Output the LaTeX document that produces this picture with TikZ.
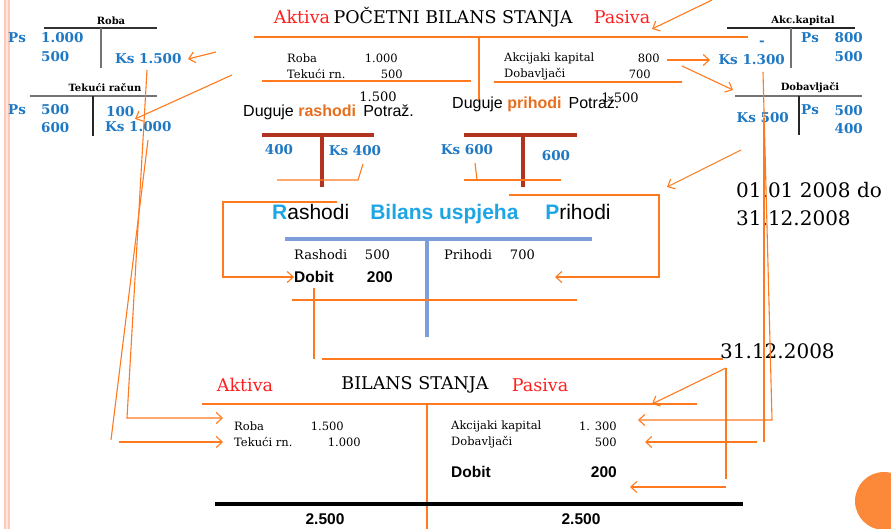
\documentclass[tikz,border=0pt]{standalone}
\usepackage{fontspec}
\setmainfont{DejaVu Serif}
\setsansfont{Liberation Sans}
\usetikzlibrary{arrows.meta,positioning,calc}

\definecolor{accblue}{RGB}{31,120,195}
\definecolor{lightblue}{RGB}{30,165,228}
\definecolor{lineor}{RGB}{255,122,30}
\definecolor{wordor}{RGB}{230,110,30}
\definecolor{titlered}{RGB}{255,30,30}
\definecolor{tred}{RGB}{178,52,32}
\definecolor{tblue}{RGB}{125,158,216}
\definecolor{dotor}{RGB}{252,137,57}
\definecolor{stripe}{RGB}{255,200,185}

\tikzset{
  acc/.style={text=accblue,font=\fontsize{13.5}{13.5}\selectfont\bfseries,inner sep=0pt},
  acctitle/.style={font=\fontsize{10}{10}\selectfont\bfseries,inner sep=0pt},
  entry/.style={font=\fontsize{11.5}{11.5}\selectfont,inner sep=0pt},
  sum/.style={font=\fontsize{13}{13}\selectfont,inner sep=0pt},
  head/.style={font=\fontsize{17.5}{17.5}\selectfont,inner sep=0pt},
  side/.style={head,text=titlered},
  date/.style={font=\fontsize{20}{20}\selectfont,inner sep=0pt},
  side sans/.style={font=\sffamily\fontsize{16}{16}\selectfont,inner sep=0pt},
  bold sans/.style={font=\sffamily\bfseries\fontsize{15.5}{15.5}\selectfont,inner sep=0pt},
  tline/.style={line width=1.2pt},
  oline/.style={draw=lineor,line width=1.1pt},
  oarrow/.style={oline,-{Straight Barb[length=6pt,width=11pt]}}
}

\begin{document}
\begin{tikzpicture}[x=1pt,y=-1pt]
  \path[use as bounding box,clip] (0,0) rectangle (891,529);

  % page stripe and corner dot
  \fill[stripe] (4,0) rectangle (10,529);
  \draw[white!55!stripe,line width=1.5pt] (7,0) -- (7,529);
  \fill[dotor] (884,501) circle (29pt);

  % T-account Roba
  \node[acctitle] (roba) at (111,21) {Roba};
  \draw[tline,black!80] (44,28) -- (157,28);
  \draw[tline,black!55] (101,28) -- (101,68);
  \node[acc,anchor=west] (psRoba) at (8,38) {Ps};
  \node[acc,anchor=west] (roba1000) at (41,38) {1.000};
  \node[acc,anchor=west] (roba500) at (41,57) {500};
  \node[acc,anchor=west] (ksRoba) at (115,59) {Ks 1.500};

  % T-account Tekuci racun
  \node[acctitle] (tekuci) at (105,88) {Tekući račun};
  \draw[tline,black!55] (30,96) -- (157,96);
  \draw[tline,black!85] (93,96) -- (93,136);
  \node[acc,anchor=west] (psTek) at (8,110) {Ps};
  \node[acc,anchor=west] (tek500) at (41,110) {500};
  \node[acc,anchor=west] (tek600) at (41,128) {600};
  \node[acc,anchor=west] (tek100) at (106,112) {100};
  \node[acc,anchor=west] (ksTek) at (105,127) {Ks 1.000};

  % T-account Akc.kapital
  \node[acctitle] (akc) at (803,21) {Akc.kapital};
  \draw[tline,black!85] (727,28) -- (855,28);
  \draw[tline,black!55] (791,28) -- (791,68);
  \node[acc] (akcMinus) at (762,43) {-};
  \node[acc,anchor=east] (ksAkc) at (785,60) {Ks 1.300};
  \node[acc,anchor=west] (psAkc) at (801,38) {Ps};
  \node[acc,anchor=east] (akc800) at (863,38) {800};
  \node[acc,anchor=east] (akc500) at (863,57) {500};

  % T-account Dobavljaci
  \node[acctitle] (dob) at (810,88) {Dobavljači};
  \draw[tline,black!55] (735,96) -- (862,96);
  \draw[tline,black!85] (799,96) -- (799,135);
  \node[acc,anchor=east] (ksDob) at (789,118) {Ks 500};
  \node[acc,anchor=west] (psDob) at (801,110) {Ps};
  \node[acc,anchor=east] (dob500) at (863,111) {500};
  \node[acc,anchor=east] (dob400) at (863,129) {400};

  % opening balance
  \node[side] (aktiva1) at (302,17) {Aktiva};
  \node[head] (pbs) at (453,17) {POČETNI BILANS STANJA};
  \node[side] (pasiva1) at (622,17) {Pasiva};
  \draw[oline] (254,37) -- (748,37);
  \draw[oline] (479,37) -- (479,100);
  \draw[oline] (262,81) -- (471,81);
  \draw[oline] (494,82) -- (682,82);
  \node[entry,anchor=west] (pRoba) at (287,58) {Roba};
  \node[entry,anchor=east] (pRobaV) at (398,58) {1.000};
  \node[entry,anchor=west] (pTek) at (287,74) {Tekući rn.};
  \node[entry,anchor=east] (pTekV) at (403,74) {500};
  \node[entry,anchor=west] (pAkc) at (504,58) {Akcijaki kapital};
  \node[entry,anchor=east] (pAkcV) at (660,58) {800};
  \node[entry,anchor=west] (pDob) at (504,74) {Dobavljači};
  \node[entry,anchor=east] (pDobV) at (651,74) {700};
  \node[sum] (pSumL) at (378,97) {1.500};
  \node[sum] (pSumR) at (620,98) {1.500};

  % arrows around the opening balance
  \draw[oarrow] (216,52) -- (ksRoba.east -| 188,0);
  \draw[oarrow] (232,75) -- (135,119);
  \draw[oarrow] (712,0) -- (652,29);
  \draw[oarrow] (pAkcV.east) ++(7,2) -- (710,60);
  \draw[oarrow] (682,66) -- (733,90);
  \draw[oarrow] (741,150) -- (667,187);

  % expense and revenue accounts
  \node[side sans,anchor=west] (dugR) at (243,112)
    {Duguje \textcolor{wordor}{\bfseries rashodi}\, Potraž.};
  \node[side sans,anchor=west] (dugP) at (452,104)
    {Duguje \textcolor{wordor}{\bfseries prihodi}\, Potraž.};
  \draw[tred,line width=3.5pt] (262,135) -- (374,135);
  \draw[tred,line width=3.5pt] (322,135) -- (322,187);
  \draw[tred,line width=3.5pt] (464,135) -- (577,135);
  \draw[tred,line width=3.5pt] (523,135) -- (523,187);
  \node[acc] (r400) at (279,150) {400};
  \node[acc] (ksR) at (355,151) {Ks 400};
  \node[acc] (ksP) at (467,150) {Ks 600};
  \node[acc] (p600) at (556,156) {600};
  \draw[oline] (277,180) -- (358,180) -- (363,164);
  \draw[oline] (464,180) -- (561,180);
  \draw[oline] (475,163) -- (477,180);

  % income statement
  \node[font=\sffamily\fontsize{21}{21}\selectfont,inner sep=0pt,anchor=west] (bu) at (272,214)
    {\textcolor{lightblue}{\bfseries R}ashodi\quad\textcolor{lightblue}{\bfseries Bilans uspjeha}\quad\ \textcolor{lightblue}{\bfseries P}rihodi};
  \draw[tblue,line width=3.5pt] (285,239) -- (592,239);
  \draw[tblue,line width=3.5pt] (427,239) -- (427,337);
  \node[sum,anchor=west] (buR) at (294,255) {Rashodi};
  \node[sum,anchor=east] (buRV) at (390,255) {500};
  \node[sum,anchor=west] (buP) at (444,255) {Prihodi};
  \node[sum,anchor=east] (buPV) at (535,255) {700};
  \node[bold sans,anchor=west] (buD) at (294,277) {Dobit};
  \node[bold sans,anchor=east] (buDV) at (393,277) {200};
  \draw[oline] (292,300) -- (577,300);
  \draw[oarrow] (337,202) -- (223,202) -- (223,277) -- (buD.west);
  \draw[oarrow] (509,195) -- (659,195) -- (659,277) -- (555,277);
  \draw[oline] (314,288) -- (314,359);
  \draw[oline] (322,359) -- (723,359);

  % dates
  \node[date,anchor=west] (d1) at (736,190) {01.01 2008 do};
  \node[date,anchor=west] (d2) at (736,218) {31.12.2008};
  \node[date,anchor=west] (d3) at (720,351) {31.12.2008};

  % closing balance
  \node[side] (aktiva2) at (245,385) {Aktiva};
  \node[head] (bs) at (415,385) {BILANS STANJA};
  \node[side] (pasiva2) at (540,385) {Pasiva};
  \draw[oline] (202,404) -- (697,404);
  \draw[oline] (427,404) -- (427,529);
  \node[entry,anchor=west] (bRoba) at (234,426) {Roba};
  \node[entry,anchor=east] (bRobaV) at (344,426) {1.500};
  \node[entry,anchor=west] (bTek) at (234,442) {Tekući rn.};
  \node[entry,anchor=east] (bTekV) at (361,442) {1.000};
  \node[entry,anchor=west] (bAkc) at (451,426) {Akcijaki kapital};
  \node[entry,anchor=east] (bAkcV) at (617,426) {1. 300};
  \node[entry,anchor=west] (bDob) at (451,442) {Dobavljači};
  \node[entry,anchor=east] (bDobV) at (617,442) {500};
  \node[bold sans,anchor=west] (bDobit) at (451,472) {Dobit};
  \node[bold sans,anchor=east] (bDobitV) at (617,472) {200};
  \draw[black,line width=3.5pt] (215,504) -- (743,504);
  \node[bold sans] (totL) at (325,519) {2.500};
  \node[bold sans] (totR) at (581,519) {2.500};

  % closing transfers
  \draw[oarrow] (726,368) -- (652,404);
  \draw[oline] (726,368) -- (726,479);
  \draw[oarrow] (726,487) -- (630,487);
  \draw[oarrow] (763,72) -- (772,420) -- (638,420);
  \draw[oline] (764,118) -- (764,442);
  \draw[oarrow] (757,442) -- (645,442);
  \draw[oarrow] (147,70) -- (127,418) -- (223,418);
  \draw[oline] (148,140) -- (111,440);
  \draw[oarrow] (119,442) -- (223,442);
\end{tikzpicture}
\end{document}
